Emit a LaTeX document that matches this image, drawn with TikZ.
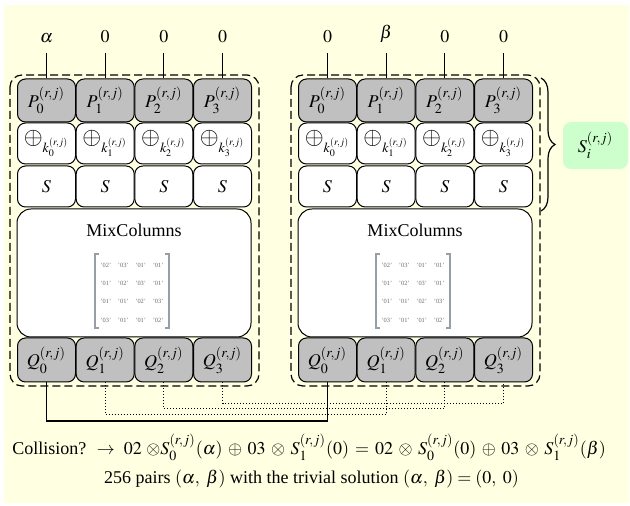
\documentclass[tikz,border=0pt]{standalone}
\usepackage{mathptmx}
\usepackage[no-math]{fontspec}
\setmainfont{Liberation Serif}
\usetikzlibrary{decorations.pathreplacing}

\definecolor{paper}{RGB}{255,255,225}
\definecolor{regfill}{RGB}{192,192,192}
\definecolor{subfill}{RGB}{204,255,204}
\definecolor{brgray}{RGB}{150,158,168}

\tikzset{
	cell/.style={draw, line width=0.5pt, rounded corners=4pt, minimum width=29pt, inner sep=0pt},
	reg/.style={cell, fill=regfill, minimum height=21.5pt},
	op/.style={cell, fill=white, minimum height=20.5pt},
	mixbox/.style={cell, fill=white, minimum width=117pt, minimum height=64pt, rounded corners=7pt},
	frame/.style={dash pattern=on 4pt off 2pt, line width=0.6pt, rounded corners=6pt},
	inlab/.style={anchor=south, inner xsep=1pt, inner ysep=5pt},
	link/.style={line width=0.6pt},
	dotlink/.style={densely dotted, line width=0.5pt},
	coef/.style={text=gray!85!black, font=\fontsize{3.2}{3.2}\selectfont, inner xsep=1pt, inner ysep=0pt},
	bracket/.style={draw=brgray, line width=0.9pt}
}

\begin{document}
\begin{tikzpicture}[x=0.5pt, y=-0.5pt, font=\fontsize{9}{11}\selectfont]
	\useasboundingbox (0,0) rectangle (630,506);
	\fill [paper] (4,5) rectangle (629,503);
	\foreach \side/\dx in {L/0, R/281} {
		\draw [frame] (10+\dx,75) rectangle (259+\dx,386);
		\foreach \i in {0,...,3} {
			\pgfmathsetmacro\cx{46.5+58.67*\i+\dx}
			\node [reg] (P\side\i) at (\cx,100.5) {$P_{\i}^{(r,j)}$};
			\node [op] (K\side\i) at (\cx,143.5) {$\mathbin{\scalebox{1.35}{$\oplus$}}_{k_{\i}^{(r,j)}}$};
			\node [op] (S\side\i) at (\cx,186.5) {$S$};
			\node [reg, minimum height=22pt] (Q\side\i) at (\cx,360) {$Q_{\i}^{(r,j)}$};
		}
		\node [mixbox] (M\side) at (134+\dx,273) {};
		\node (T\side) at (134+\dx,230) {MixColumns};
		\node [coef, minimum width=31pt, minimum height=36pt] (X\side) at (132+\dx,291) {\renewcommand{\arraystretch}{2.85}\setlength{\tabcolsep}{1.7pt}\begin{tabular}{cccc}
			'02' & '03' & '01' & '01' \\
			'01' & '02' & '03' & '01' \\
			'01' & '01' & '02' & '03' \\
			'03' & '01' & '01' & '02'
		\end{tabular}};
		\draw [bracket] ([xshift=2pt]X\side.north west) -| (X\side.south west) -- ++(2pt,0);
		\draw [bracket] ([xshift=-2pt]X\side.north east) -| (X\side.south east) -- ++(-2pt,0);
	}
	\foreach \i/\t in {0/\alpha, 1/0, 2/0, 3/0} {
		\node [inlab] (inL\i) at (PL\i.north |- 0,53) {$\t$};
		\draw [link] (inL\i) -- (PL\i);
	}
	\foreach \i/\t in {0/0, 1/\beta, 2/0, 3/0} {
		\node [inlab] (inR\i) at (PR\i.north |- 0,53) {$\t$};
		\draw [link] (inR\i) -- (PR\i);
	}
	\draw [decorate, decoration={brace, amplitude=7pt}, line width=0.6pt] (541,78) -- (541,211);
	\node [fill=subfill, rounded corners=4pt, minimum width=32.5pt, minimum height=23.5pt] (Si) at (595.5,145.5) {$S_i^{(r,j)}$};
	\draw [link] (QL0) -- (QL0 |- 0,421) -- (QR0 |- 0,421) -- (QR0);
	\foreach \i/\lev in {1/415, 2/409, 3/404}
		\draw [dotlink] (QL\i) -- (QL\i |- 0,\lev) -- (QR\i |- 0,\lev) -- (QR\i);
	\node [anchor=base west, inner sep=0pt] (eq) at (12,454) {\medmuskip=5.5mu\thickmuskip=6mu Collision? \ $\rightarrow$ \ $02\ {\otimes}S_0^{(r,j)}(\alpha)\oplus 03\otimes S_1^{(r,j)}(0)=02\otimes S_0^{(r,j)}(0)\oplus 03\otimes S_1^{(r,j)}(\beta)$};
	\node [anchor=base] (pairs) at (311.5,483) {256 pairs $(\alpha,\ \beta)$ with the trivial solution $(\alpha,\ \beta) = (0,\ 0)$};
\end{tikzpicture}
\end{document}
